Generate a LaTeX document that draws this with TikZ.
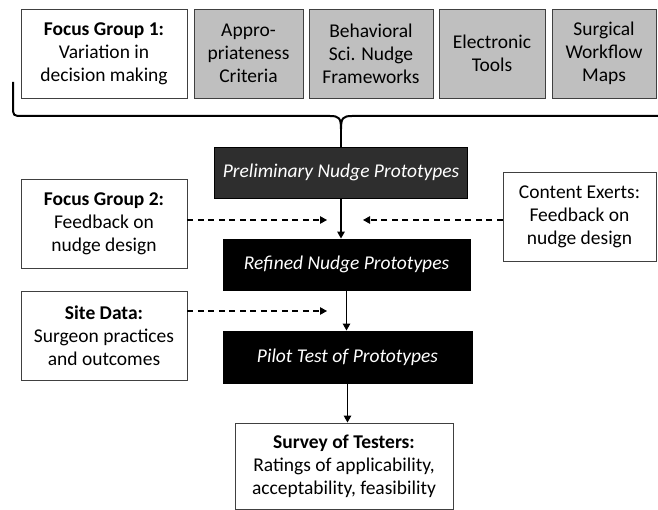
\documentclass[tikz,border=0pt]{standalone}
\usepackage{fontspec}
\setmainfont{Carlito}
\usetikzlibrary{arrows.meta}

\tikzset{
  box/.style={draw=black!75, line width=0.9pt, fill=white, align=center,
    inner sep=0pt, font=\fontsize{19.5}{23}\selectfont},
  srcbox/.style={box, fill=black!25},
  stagebox/.style={box, draw=black, fill=black, text=white,
    font=\fontsize{19.5}{23}\selectfont\itshape},
  flow/.style={line width=1.3pt, -{Triangle[length=7pt,width=7.5pt]}},
  feed/.style={line width=1.2pt, dash pattern=on 6pt off 4.5pt,
    -{Triangle[length=7pt,width=7.5pt]}},
}

\begin{document}
\begin{tikzpicture}[x=1pt,y=-1pt]
\useasboundingbox (0,0) rectangle (658,510);
% inputs along the top
\node[box, minimum width=166pt, minimum height=89pt] (fgone) at (104,53.5)
  {\textbf{Focus Group 1:}\\Variation in\\decision making};
\node[srcbox, minimum width=109pt, minimum height=89pt] (approp) at (248.5,53.5)
  {Appro-\\priateness\\Criteria};
\node[srcbox, minimum width=124pt, minimum height=89pt] (behav) at (371,53.5)
  {Behavioral\\Sci. Nudge\\Frameworks};
\node[srcbox, minimum width=106pt, minimum height=89pt] (etools) at (492,53.5)
  {Electronic\\Tools};
\node[srcbox, minimum width=104pt, minimum height=89pt] (wflow) at (604,53.5)
  {Surgical\\Workflow\\Maps};
% prototype stages
\node[stagebox, fill=black!82, minimum width=253pt, minimum height=51pt] (prelim) at (341,172.5)
  {Preliminary Nudge Prototypes};
\node[stagebox, minimum width=247pt, minimum height=51pt] (refined) at (346.5,264.5)
  {Refined Nudge Prototypes};
\node[stagebox, minimum width=249pt, minimum height=52pt] (pilot) at (347.5,357)
  {Pilot Test of Prototypes};
\node[box, minimum width=218pt, minimum height=86pt] (survey) at (344,466)
  {\textbf{Survey of Testers:}\\Ratings of applicability,\\acceptability, feasibility};
% feedback sources
\node[box, minimum width=166pt, minimum height=89pt] (fgtwo) at (104,223.5)
  {\textbf{Focus Group 2:}\\Feedback on\\nudge design};
\node[box, minimum width=166pt, minimum height=89pt] (site) at (104,335.5)
  {\textbf{Site Data:}\\Surgeon practices\\and outcomes};
\node[box, minimum width=153pt, minimum height=89pt] (experts) at (579.5,216.5)
  {Content Exerts:\\Feedback on\\nudge design};
% brace joining the inputs
\coordinate (cusp) at (341,129);
\draw[line width=2pt, line join=round]
  (13,82) -- (13,106) .. controls (13,116) .. (23,116)
  -- (330,116) .. controls (339,116) and (341,118) .. (cusp)
  .. controls (341,118) and (343,116) .. (352,116) -- (660,116);
\draw[line width=2pt] (cusp) -- (prelim.north);
% main flow
\draw[flow] (prelim.south) -- (prelim.south |- refined.north);
\draw[flow] (refined.south) -- (refined.south |- pilot.north);
\draw[flow] (pilot.south) -- (pilot.south |- survey.north);
% dashed feedback
\coordinate (fgtwotip) at (327,220);
\coordinate (experttip) at (363,220);
\coordinate (sitetip) at (327,311);
\draw[feed] (fgtwotip -| fgtwo.east) -- (fgtwotip);
\draw[feed] (experttip -| experts.west) -- (experttip);
\draw[feed] (sitetip -| site.east) -- (sitetip);
\end{tikzpicture}
\end{document}
